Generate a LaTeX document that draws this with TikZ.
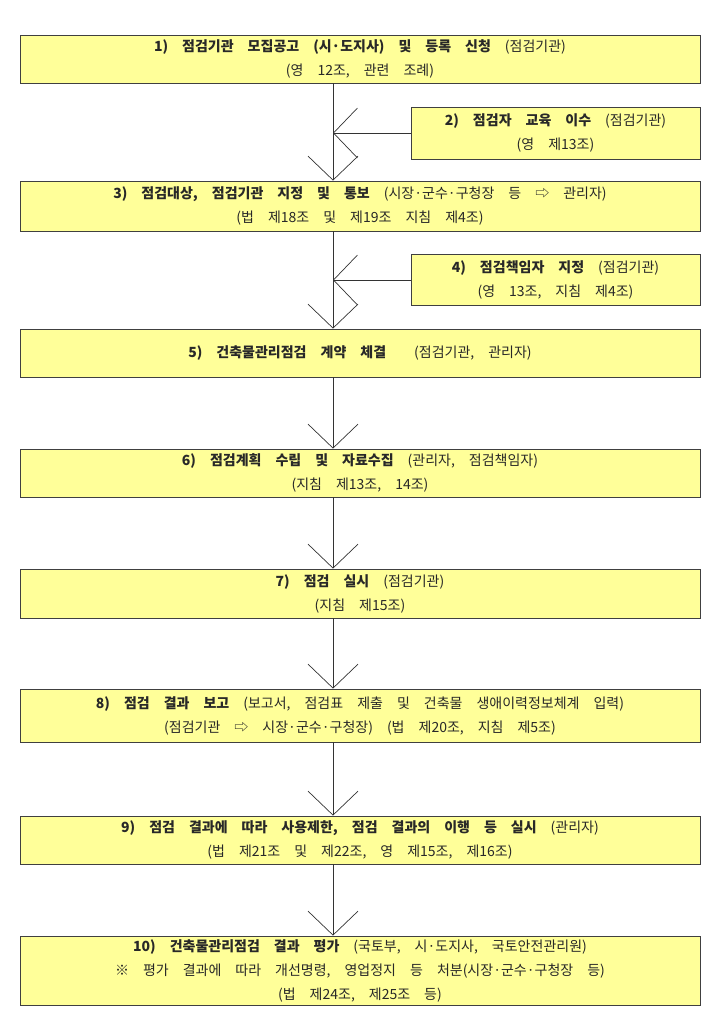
\documentclass[tikz,border=0pt]{standalone}
\usepackage{fontspec}
\setmainfont{Noto Sans CJK KR}
\usetikzlibrary{arrows.meta}
\definecolor{boxfill}{RGB}{255,255,153}
\definecolor{txt}{RGB}{40,40,40}
\newcommand\boxfont{\fontsize{14}{24}\selectfont\spaceskip=1em plus 0.1em\relax}
\begin{document}
\begin{tikzpicture}[x=1pt,y=-1pt,
  box/.style={draw=black!75,line width=0.8pt,fill=boxfill,text=txt,align=center,font=\boxfont,inner sep=0pt},
  flow/.style={draw=black!80,line width=0.7pt,-{Straight Barb[length=24pt,width=50pt,line width=0.7pt]}}]
\useasboundingbox (0,0) rectangle (715,1024);
\def\bx#1#2#3#4#5#6{\node[box,minimum width=#4-#2,minimum height=#5-#3] (#1) at ({(#2+#4)/2},{(#3+#5)/2}) {#6};}
\bx{b1}{20}{35}{700}{83}{\textbf{1) 점검기관 모집공고 (시·도지사) 및 등록 신청} (점검기관)\\(영 12조, 관련 조례)}
\bx{b2}{411}{107}{700}{159}{\textbf{2) 점검자 교육 이수} (점검기관)\\(영 제13조)}
\bx{b3}{20}{181}{700}{231}{\textbf{3) 점검대상, 점검기관 지정 및 통보} (시장·군수·구청장 등 ⇨ 관리자)\\(법 제18조 및 제19조 지침 제4조)}
\bx{b4}{411}{254}{700}{305}{\textbf{4) 점검책임자 지정} (점검기관)\\(영 13조, 지침 제4조)}
\bx{b5}{20}{329}{700}{377}{\textbf{5) 건축물관리점검 계약 체결}\ \ (점검기관, 관리자)}
\bx{b6}{20}{449}{700}{497}{\textbf{6) 점검계획 수립 및 자료수집} (관리자, 점검책임자)\\(지침 제13조, 14조)}
\bx{b7}{20}{569}{700}{618}{\textbf{7) 점검 실시} (점검기관)\\(지침 제15조)}
\bx{b8}{20}{689}{700}{742}{\textbf{8) 점검 결과 보고} (보고서, 점검표 제출 및 건축물 생애이력정보체계 입력)\\(점검기관 ⇨ 시장·군수·구청장) (법 제20조, 지침 제5조)}
\bx{b9}{20}{816}{700}{864}{\textbf{9) 점검 결과에 따라 사용제한, 점검 결과의 이행 등 실시} (관리자)\\(법 제21조 및 제22조, 영 제15조, 제16조)}
\bx{b10}{20}{936}{700}{1005}{\textbf{10) 건축물관리점검 결과 평가} (국토부, 시·도지사, 국토안전관리원)\\※ 평가 결과에 따라 개선명령, 영업정지 등 처분(시장·군수·구청장 등)\\(법 제24조, 제25조 등)}
\coordinate (j1) at (333,133);
\coordinate (j2) at (333,280);
\foreach \a/\b in {b1/b3,b3/b5,b5/b6,b6/b7,b7/b8,b8/b9,b9/b10}
  \draw[flow] (\a.south -| 333,0) -- (\b.north -| 333,0);
\draw[flow] (b2.west |- j1) -- (j1);
\draw[flow] (b4.west |- j2) -- (j2);
\end{tikzpicture}
\end{document}
